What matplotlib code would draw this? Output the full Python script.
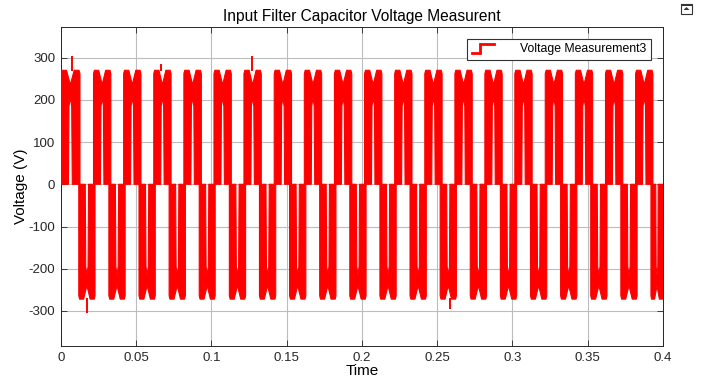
import numpy as np
import matplotlib
matplotlib.use("Agg")
from matplotlib import pyplot as plt
from matplotlib.lines import Line2D
from matplotlib.patches import Polygon, Rectangle
from matplotlib.legend_handler import HandlerBase

plt.rcParams['font.family'] = ['Liberation Sans', 'DejaVu Sans']
plt.rcParams['axes.unicode_minus'] = False

# lobe start / end times (ms)
pos_start_ms = [0.0, 21.8, 41.8, 61.8, 81.8, 101.8, 121.7, 141.8, 161.8, 181.8,
                201.8, 221.8, 241.8, 261.8, 281.7, 301.6, 321.8, 341.8, 361.8, 381.8]
pos_end_ms = [12.8, 33.3, 53.3, 73.3, 93.4, 113.3, 133.2, 153.3, 173.3, 193.3,
              213.3, 233.3, 253.3, 273.3, 293.2, 313.1, 333.3, 353.3, 373.3, 393.3]
neg_start_ms = [12.0, 32.0, 52.0, 72.0, 92.0, 112.0, 132.0, 152.0, 172.0, 192.0,
                212.0, 232.0, 252.0, 272.0, 292.0, 312.0, 332.0, 352.0, 372.0, 392.0]
neg_end_ms = [22.8, 42.8, 62.8, 82.8, 102.6, 122.8, 142.8, 162.8, 182.8, 202.8,
              222.8, 242.8, 262.8, 282.8, 302.8, 322.8, 342.8, 362.8, 382.8, 400.0]

# outline of one half-cycle band (fraction of lobe width, volts)
lobe_frac = [0.0, 0.0, 0.05, 0.3, 0.5, 0.7, 0.95, 1.0, 1.0, 0.6, 0.57, 0.5, 0.43, 0.4]
pos_volts = [0, 262, 270, 270, 236, 270, 270, 262, 0, 0, 185, 205, 185, 0]
neg_volts = [0, -264, -272, -272, -240, -272, -272, -264, 0, 0, -195, -215, -195, 0]

# switching spikes
spike_t_ms = [7.7, 17.3, 66.6, 127.2, 258.5]
spike_base = [268, -270, 268, 268, -270]
spike_peak = [305, -305, 285, 303, -296]

x_ticks = [0, 0.05, 0.1, 0.15, 0.2, 0.25, 0.3, 0.35, 0.4]
x_tick_labels = ['0', '0.05', '0.1', '0.15', '0.2', '0.25', '0.3', '0.35', '0.4']
y_ticks = [-300, -200, -100, 0, 100, 200, 300]

red = '#ff0000'


class StepHandler(HandlerBase):
    def create_artists(self, legend, orig_handle, xdescent, ydescent,
                       width, height, fontsize, trans):
        x0 = -xdescent
        xs = [x0, x0 + 0.4 * width, x0 + 0.4 * width, x0 + width]
        ys = [-ydescent - 0.1 * height, -ydescent - 0.1 * height,
              -ydescent + 1.0 * height, -ydescent + 1.0 * height]
        line = Line2D(xs, ys, color=red, lw=2.0, solid_joinstyle='miter')
        line.set_transform(trans)
        return [line]


fig = plt.figure(figsize=(7.02, 3.79), dpi=100)
ax = fig.add_axes([60.7 / 702, 33 / 379, 602.3 / 702, 319 / 379])

frac = np.array(lobe_frac)
for s, e in zip(pos_start_ms, pos_end_ms):
    xs = (s + frac * (e - s)) / 1000
    ax.add_patch(Polygon(np.column_stack([xs, pos_volts]), closed=True,
                         facecolor=red, edgecolor=red, lw=0.8, joinstyle='round', zorder=3))
for s, e in zip(neg_start_ms, neg_end_ms):
    xs = (s + frac * (e - s)) / 1000
    ax.add_patch(Polygon(np.column_stack([xs, neg_volts]), closed=True,
                         facecolor=red, edgecolor=red, lw=0.8, joinstyle='round', zorder=3))

ax.vlines(np.array(spike_t_ms) / 1000, spike_base, spike_peak, color=red, lw=1.4, zorder=3)

ax.set_xlim(0, 0.4)
ax.set_ylim(-383, 372.5)
ax.set_xticks(x_ticks)
ax.set_xticklabels(x_tick_labels)
ax.set_yticks(y_ticks)
ax.tick_params(direction='in', length=4, width=0.6, labelsize=9.5, colors='#262626',
               top=True, right=True, pad=4)
ax.grid(True, color='#bdbdbd', lw=0.8)
ax.set_axisbelow(True)
for sp in ax.spines.values():
    sp.set_color('#262626')
    sp.set_linewidth(0.7)

ax.set_title('Input Filter Capacitor Voltage Measurent', fontsize=11.2, pad=4)
ax.set_xlabel('Time', fontsize=11, labelpad=0)
ax.set_ylabel('Voltage (V)', fontsize=11, labelpad=0)

leg = ax.legend([Line2D([], [])], ['Voltage Measurement3'],
                handler_map={Line2D: StepHandler()},
                loc='upper right', bbox_to_anchor=(0.98, 0.962), borderaxespad=0,
                fontsize=8.8, handlelength=1.8, handletextpad=2.2, borderpad=0.35,
                fancybox=False, framealpha=1, edgecolor='#333333')
leg.get_frame().set_linewidth(0.8)

# small undock icon top-right
fig.add_artist(Rectangle((681 / 702, 1 - 14 / 379), 11 / 702, 10 / 379,
                         transform=fig.transFigure, facecolor='white',
                         edgecolor='#333333', lw=0.8))
fig.add_artist(Rectangle((681 / 702, 1 - 6 / 379), 11 / 702, 2 / 379,
                         transform=fig.transFigure, facecolor='#333333', lw=0))
fig.add_artist(Polygon([[683.5 / 702, 1 - 10 / 379], [689.5 / 702, 1 - 10 / 379],
                        [686.5 / 702, 1 - 7 / 379]], closed=True,
                       transform=fig.transFigure, facecolor='#333333', lw=0))

fig.savefig('out.png', dpi=100)
